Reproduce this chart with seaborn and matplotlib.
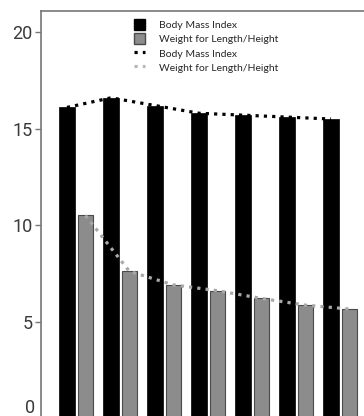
import matplotlib
matplotlib.use('Agg')
import matplotlib.pyplot as plt
from matplotlib.patches import Patch
from matplotlib.lines import Line2D
import pandas as pd
import seaborn as sns

# values (x labels are cropped out of the reference)
groups = ['1', '2', '3', '4', '5', '6', '7']
bmi = [16.1, 16.6, 16.2, 15.8, 15.7, 15.6, 15.5]
wfl = [10.5, 7.6, 6.9, 6.6, 6.2, 5.85, 5.65]
series = ['Body Mass Index', 'Weight for Length/Height']
y_ticks = [5, 10, 15, 20]

df = pd.DataFrame({
    'group': groups * 2,
    'value': bmi + wfl,
    'series': [series[0]] * len(groups) + [series[1]] * len(groups),
})

sns.set_style('white')
fig = plt.figure(figsize=(3.64, 4.16), dpi=100)
ax = fig.add_axes([41 / 364, -2 / 416, 1 - 41 / 364, 407 / 416])

sns.barplot(data=df, x='group', y='value', hue='series', order=groups,
            hue_order=series, palette=['black', '#8c8c8c'],
            width=0.84, gap=0.15, legend=False, ax=ax)

for bar in ax.containers[0]:
    bar.set_edgecolor('black')
    bar.set_linewidth(0.5)
# dark outline on the grey bars
for bar in ax.containers[1]:
    bar.set_edgecolor('#4a4a4a')
    bar.set_linewidth(0.8)

# dotted lines through the bar tops
line_colors = ['black', '#a8a8a8']
for cont, col in zip(ax.containers, line_colors):
    xs = [b.get_x() + b.get_width() / 2 for b in cont]
    ys = [b.get_height() for b in cont]
    ax.plot(xs, ys, color=col, lw=2.3, linestyle=(0, (1, 1.6)),
            dash_capstyle='butt', zorder=5)

ax.set_xlim(-0.8, 6.54)
ax.set_ylim(0, 21.1)
ax.set_yticks(y_ticks)
ax.set_xticks([])
ax.set_xlabel('')
ax.set_ylabel('')

for s in ['right', 'bottom']:
    ax.spines[s].set_visible(False)
for s in ['left', 'top']:
    ax.spines[s].set_color('#777777')
    ax.spines[s].set_linewidth(1.2)

ax.tick_params(axis='y', left=True, length=4, width=1, color='#777777',
               pad=2, labelsize=13, labelcolor='#3a3a3a')
for lab in ax.get_yticklabels():
    lab.set_fontfamily('Roboto')

# the "0" label sits a little above the cropped bottom edge
ax.annotate('0', xy=(0, 0), xycoords=('axes fraction', 'data'),
            xytext=(-4.4, 7), textcoords='offset points',
            ha='right', va='center', fontsize=13, color='#3a3a3a',
            family='Roboto')

handles = [
    Patch(facecolor='black', edgecolor='black'),
    Patch(facecolor='#8c8c8c', edgecolor='#4a4a4a'),
    Line2D([], [], color='black', lw=2.3, linestyle=(0, (1, 1.6))),
    Line2D([], [], color='#b8b8b8', lw=2.3, linestyle=(0, (1, 1.6))),
]
ax.legend(handles, series + series, loc='upper left',
          bbox_to_anchor=(128 / 364, 1 - 13 / 416), bbox_transform=fig.transFigure,
          frameon=False, prop={'family': 'Lato', 'size': 7.5},
          handlelength=1.0, handleheight=1.25, handletextpad=1.35,
          labelspacing=0.3, borderpad=0.1)

fig.savefig('out.png', dpi=100)
